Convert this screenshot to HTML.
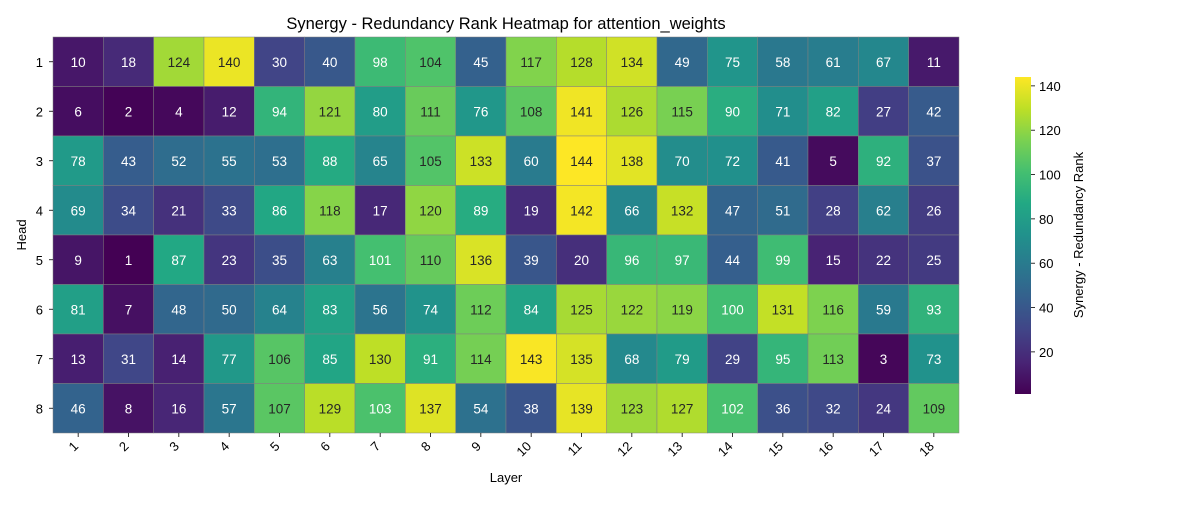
<!DOCTYPE html>
<html><head><meta charset="utf-8"><style>
body{margin:0;background:#fff;}
svg{font-family:"Liberation Sans","DejaVu Sans",sans-serif;}
</style></head><body>
<svg id="chart" width="1200" height="500" viewBox="0 0 1200 500" xmlns="http://www.w3.org/2000/svg">
<defs><linearGradient id="vir" x1="0" y1="1" x2="0" y2="0">
<stop offset="0" stop-color="#440154"/><stop offset="0.1" stop-color="#482475"/><stop offset="0.2" stop-color="#414487"/><stop offset="0.3" stop-color="#355f8d"/><stop offset="0.4" stop-color="#2a788e"/><stop offset="0.5" stop-color="#21918c"/><stop offset="0.6" stop-color="#22a884"/><stop offset="0.7" stop-color="#44bf70"/><stop offset="0.8" stop-color="#7ad151"/><stop offset="0.9" stop-color="#bddf26"/><stop offset="1" stop-color="#fde725"/>
</linearGradient></defs>
<text x="506" y="29" text-anchor="middle" font-size="16.5" fill="#000">Synergy - Redundancy Rank Heatmap for attention_weights</text>
<text x="506" y="482" text-anchor="middle" font-size="13" fill="#000">Layer</text>
<text transform="translate(26,235) rotate(-90)" text-anchor="middle" font-size="13" fill="#000">Head</text>
<g id="cells"></g><g id="xt"></g><g id="yt"></g>
<rect x="1015" y="77" width="16" height="317" fill="url(#vir)"/>
<g id="cb"></g>
<text transform="translate(1083,235) rotate(-90)" text-anchor="middle" font-size="13" fill="#000">Synergy - Redundancy Rank</text>
</svg>
<script>
const layers=[1,2,3,4,5,6,7,8,9,10,11,12,13,14,15,16,17,18];
const heads=[1,2,3,4,5,6,7,8];
const values=[
[10,18,124,140,30,40,98,104,45,117,128,134,49,75,58,61,67,11],
[6,2,4,12,94,121,80,111,76,108,141,126,115,90,71,82,27,42],
[78,43,52,55,53,88,65,105,133,60,144,138,70,72,41,5,92,37],
[69,34,21,33,86,118,17,120,89,19,142,66,132,47,51,28,62,26],
[9,1,87,23,35,63,101,110,136,39,20,96,97,44,99,15,22,25],
[81,7,48,50,64,83,56,74,112,84,125,122,119,100,131,116,59,93],
[13,31,14,77,106,85,130,91,114,143,135,68,79,29,95,113,3,73],
[46,8,16,57,107,129,103,137,54,38,139,123,127,102,36,32,24,109]];
const cbTicks=[20,40,60,80,100,120,140];
const NS="http://www.w3.org/2000/svg";
const X0=53,X1=959,Y0=37,Y1=433;
const cw=(X1-X0)/layers.length, ch=(Y1-Y0)/heads.length;
let all=values.flat(); const vmin=Math.min(...all), vmax=Math.max(...all);
const stops=["#440154","#482475","#414487","#355f8d","#2a788e","#21918c","#22a884","#44bf70","#7ad151","#bddf26","#fde725"].map(h=>[1,3,5].map(i=>parseInt(h.substr(i,2),16)));
function cmap(v){let t=(v-vmin)/(vmax-vmin)*10;let i=Math.min(9,Math.floor(t));let f=t-i;return stops[i].map((c,k)=>Math.round(c+(stops[i+1][k]-c)*f));}
function lum(c){const l=c.map(x=>{x/=255;return x<=0.03928?x/12.92:Math.pow((x+0.055)/1.055,2.4)});return 0.2126*l[0]+0.7152*l[1]+0.0722*l[2];}
function el(t,a,p,txt){const e=document.createElementNS(NS,t);for(const k in a)e.setAttribute(k,a[k]);if(txt!==undefined)e.textContent=txt;p.appendChild(e);return e;}
const cells=document.getElementById('cells');
values.forEach((row,r)=>row.forEach((v,c)=>{
 const col=cmap(v);
 const rc=el('rect',{x:X0+c*cw,y:Y0+r*ch,width:cw,height:ch,fill:`rgb(${col})`,stroke:'#808080','stroke-width':0.5},cells);
 
 
 const tx=el('text',{x:X0+(c+0.5)*cw,y:Y0+(r+0.5)*ch+5,'text-anchor':'middle','font-size':13.5,fill:lum(col)>0.408?'#262626':'#fff'},cells,v);
 
 
}));
const xt=document.getElementById('xt');
layers.forEach((l,i)=>{const x=X0+(i+0.5)*cw;
 el('line',{x1:x,x2:x,y1:Y1,y2:Y1+4,stroke:'#000','stroke-width':0.8},xt);
 const t=el('text',{transform:`translate(${x+1},${Y1+14}) rotate(-45)`,'text-anchor':'end','font-size':13,fill:'#000'},xt,l);
 
 });
const yt=document.getElementById('yt');
heads.forEach((h,i)=>{const y=Y0+(i+0.5)*ch;
 el('line',{x1:X0-4,x2:X0,y1:y,y2:y,stroke:'#000','stroke-width':0.8},yt);
 const t=el('text',{x:X0-10,y:y+5,'text-anchor':'end','font-size':13,fill:'#000'},yt,h);
 
 });
const cb=document.getElementById('cb');
cbTicks.forEach(v=>{const y=394-(v-vmin)/(vmax-vmin)*317;
 el('line',{x1:1031,x2:1035,y1:y,y2:y,stroke:'#000','stroke-width':0.8},cb);
 const t=el('text',{x:1039,y:y+5,'font-size':13,fill:'#000'},cb,v);
 
 });
</script>
</body></html>
